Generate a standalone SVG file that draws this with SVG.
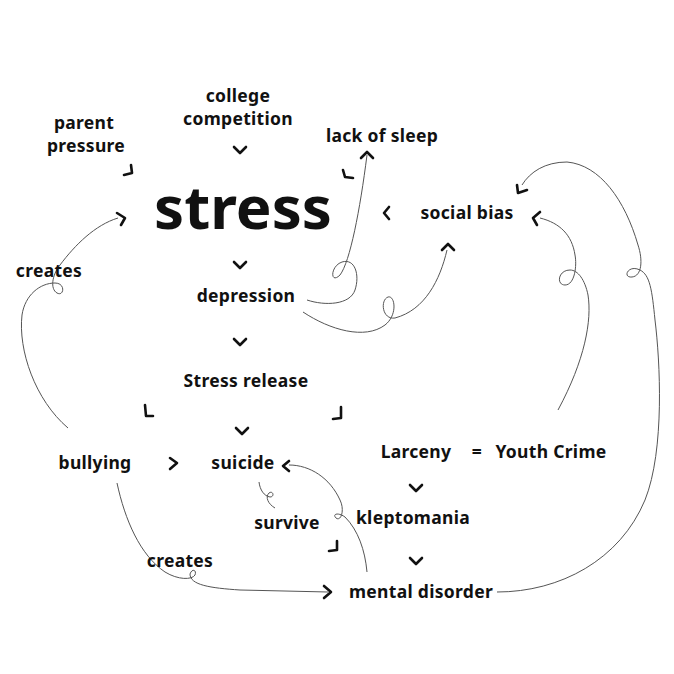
<svg xmlns="http://www.w3.org/2000/svg" width="674" height="674" viewBox="0 0 674 674">
<style>
text{font-family:"Noto Sans","DejaVu Sans",sans-serif;font-weight:700;font-size:17.5px;letter-spacing:0.3px;fill:#111;text-anchor:middle}
.big{font-size:60px;letter-spacing:0}
.c{fill:none;stroke:#555;stroke-width:1}
.h{fill:none;stroke:#111;stroke-width:2.6;stroke-linecap:round;stroke-linejoin:round}
</style>
<rect width="674" height="674" fill="#fff"/>
<g id="connectors">
<path class="c" d="M68,428 C35,400 18,350 22,315 C25,295 40,283 55,283 C66,283 64,297 57,293 C50,289 52,275 60,265 C75,245 95,225 118,218"/>
<path class="c" d="M307,300 C325,306 350,305 355,290 C360,275 355,258 342,262 C330,266 330,285 340,275 C350,262 360,210 367,155"/>
<path class="c" d="M303,312 C330,330 365,340 385,325 C398,315 395,295 388,297 C380,300 382,320 395,318 C425,310 440,280 447,250"/>
<path class="c" d="M558,410 C585,360 592,320 588,295 C585,280 578,270 570,270 C558,270 556,285 565,285 C575,285 577,265 575,255 C572,235 560,223 540,218"/>
<path class="c" d="M497,592 C560,592 620,560 645,500 C665,450 660,360 655,320 C652,290 650,275 640,270 C628,264 622,278 632,277 C642,276 643,260 638,245 C625,200 600,165 567,162 C545,162 530,172 522,185"/>
<path class="c" d="M367,572 C365,550 358,530 345,517 C338,512 332,514 336,518 C341,522 345,510 340,500 C330,478 310,465 289,465"/>
<path class="c" d="M259,482 C260,490 264,496 270,497 C275,497 273,490 269,493 C265,497 268,504 275,508"/>
<path class="c" d="M117,483 C125,520 140,555 165,572 C178,580 192,580 195,575 C197,570 192,568 190,574 C190,585 210,588 240,590 L328,592"/>
<g id="arrowheads">
<path class="h" d="M234,147 L240,153 L246,147"/>
<path class="h" d="M124,175 L132,173 L131,165"/>
<path class="h" d="M117,213 L125,218 L121,225"/>
<path class="h" d="M234,262 L240,268 L246,262"/>
<path class="h" d="M234,339 L240,345 L246,339"/>
<path class="h" d="M145,405 L146,416 L153,416"/>
<path class="h" d="M341,407 L341,418 L333,419"/>
<path class="h" d="M236,428 L242,434 L248,428"/>
<path class="h" d="M170,458 L177,463 L170,469"/>
<path class="h" d="M289,461 L283,466 L289,471"/>
<path class="h" d="M389,207 L384,213 L389,219"/>
<path class="h" d="M343,170 L345,177 L353,178"/>
<path class="h" d="M361,158 L367,152 L373,158"/>
<path class="h" d="M442,250 L448,244 L454,250"/>
<path class="h" d="M517,185 L518,193 L527,190"/>
<path class="h" d="M540,212 L533,218 L537,225"/>
<path class="h" d="M410,485 L416,491 L422,485"/>
<path class="h" d="M410,558 L416,564 L422,558"/>
<path class="h" d="M337,541 L337,550 L329,551"/>
<path class="h" d="M324,586 L331,592 L324,598"/>
</g>
</g>
<g id="college"><text x="238" y="102">college</text><text x="238" y="125">competition</text></g>
<g id="parent"><text x="84" y="129">parent</text><text x="86" y="152">pressure</text></g>
<g id="sleep"><text x="382" y="142">lack of sleep</text></g>
<g id="stress"><text class="big" x="243" y="229">stress</text></g>
<g id="social"><text x="467" y="219">social bias</text></g>
<g id="creates1"><text x="49" y="277">creates</text></g>
<g id="depression"><text x="246" y="302">depression</text></g>
<g id="release"><text x="246" y="387">Stress release</text></g>
<g id="bullying"><text x="95" y="469">bullying</text></g>
<g id="suicide"><text x="243" y="469">suicide</text></g>
<g id="larceny"><text x="416" y="458">Larceny</text><text x="477" y="458">=</text><text x="551" y="458">Youth Crime</text></g>
<g id="klepto"><text x="413" y="524">kleptomania</text></g>
<g id="survive"><text x="287" y="529">survive</text></g>
<g id="creates2"><text x="180" y="567">creates</text></g>
<g id="mental"><text x="421" y="598">mental disorder</text></g>
</svg>
